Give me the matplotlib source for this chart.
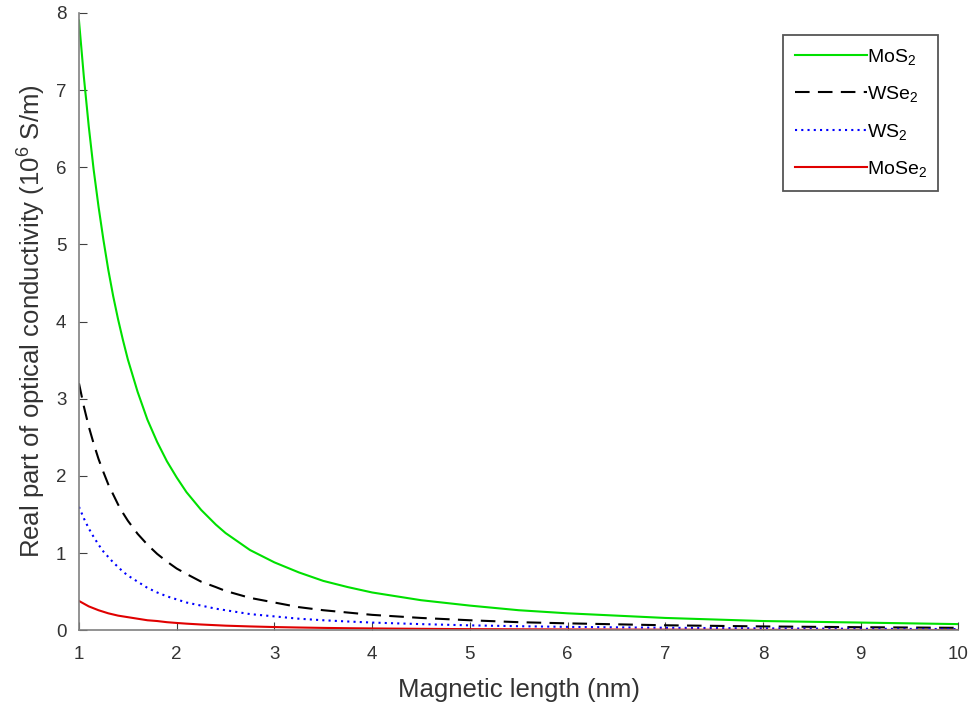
import numpy as np
import matplotlib
matplotlib.use("Agg")
import matplotlib.pyplot as plt

plt.rcParams['font.family'] = ['Liberation Sans', 'DejaVu Sans']
plt.rcParams['mathtext.default'] = 'regular'

# values
x = [1, 1.05, 1.1, 1.15, 1.2, 1.25, 1.3, 1.35, 1.4, 1.45, 1.5, 1.6, 1.7, 1.8, 1.9, 2, 2.1,
     2.25, 2.4, 2.5, 2.75, 3, 3.25, 3.5, 3.75, 4, 4.5, 5, 5.5, 6, 7, 8, 9, 10]
mos2 = [7.9, 7.17, 6.53, 5.97, 5.49, 5.06, 4.67, 4.33, 4.03, 3.76, 3.51, 3.09, 2.73, 2.44,
        2.19, 1.98, 1.79, 1.56, 1.37, 1.26, 1.04, 0.88, 0.75, 0.64, 0.56, 0.49, 0.39, 0.32,
        0.26, 0.22, 0.16, 0.12, 0.10, 0.08]
wse2 = [3.2, 2.9, 2.64, 2.42, 2.22, 2.05, 1.89, 1.76, 1.63, 1.52, 1.42, 1.25, 1.11, 0.99,
        0.89, 0.80, 0.73, 0.63, 0.56, 0.51, 0.42, 0.36, 0.30, 0.26, 0.23, 0.20, 0.16, 0.13,
        0.105, 0.09, 0.065, 0.05, 0.04, 0.032]
ws2 = [1.6, 1.45, 1.32, 1.21, 1.11, 1.02, 0.95, 0.88, 0.82, 0.76, 0.71, 0.63, 0.55, 0.49,
       0.44, 0.40, 0.36, 0.32, 0.28, 0.26, 0.21, 0.18, 0.15, 0.13, 0.114, 0.10, 0.08, 0.064,
       0.053, 0.044, 0.033, 0.025, 0.02, 0.016]
mose2 = [0.38, 0.345, 0.31, 0.285, 0.26, 0.24, 0.22, 0.205, 0.19, 0.18, 0.17, 0.15, 0.13,
         0.12, 0.105, 0.095, 0.086, 0.075, 0.066, 0.06, 0.05, 0.042, 0.036, 0.031, 0.027,
         0.024, 0.019, 0.015, 0.013, 0.011, 0.008, 0.006, 0.005, 0.004]
labels = ['MoS$_2$', 'WSe$_2$', 'WS$_2$', 'MoSe$_2$']

fig = plt.figure(figsize=(9.75, 7.13), dpi=100)
ax = fig.add_axes([0.081, 0.116, 0.902, 0.866])

ax.plot(x, mos2, color='#00e000', lw=1.5, label=labels[0])
ax.plot(x, wse2, color='black', lw=1.5, ls=(0, (7, 4)), label=labels[1])
ax.plot(x, ws2, color='#0000ff', lw=1.5, ls=(0, (1, 2)), label=labels[2])
ax.plot(x, mose2, color='#e00000', lw=1.5, label=labels[3])

ax.set_xlim(1, 10)
ax.set_ylim(0, 8)
ax.set_xticks(range(1, 11))
ax.set_yticks(range(0, 9))
for s in ['top', 'right']:
    ax.spines[s].set_visible(False)
for s in ['left', 'bottom']:
    ax.spines[s].set_color('#808080')
    ax.spines[s].set_linewidth(1.2)
ax.tick_params(direction='in', length=6, color='#404040', labelsize=13.5,
               labelcolor='#333333')
ax.tick_params(axis='x', pad=11)
ax.tick_params(axis='y', pad=9)

ax.set_xlabel('Magnetic length (nm)', fontsize=18.5, color='#333333', labelpad=11)
ax.set_ylabel('Real part of optical conductivity (10$^6$ S/m)', fontsize=18.5,
              color='#333333', labelpad=6)

leg = ax.legend(loc='upper right', bbox_to_anchor=(0.977, 0.964), borderaxespad=0,
                fontsize=14, fancybox=False, edgecolor='#555555', handlelength=3.7,
                handletextpad=0.0, labelspacing=0.9, borderpad=0.6, framealpha=1)
leg.get_frame().set_linewidth(1.3)

fig.savefig('out.png', dpi=100)
